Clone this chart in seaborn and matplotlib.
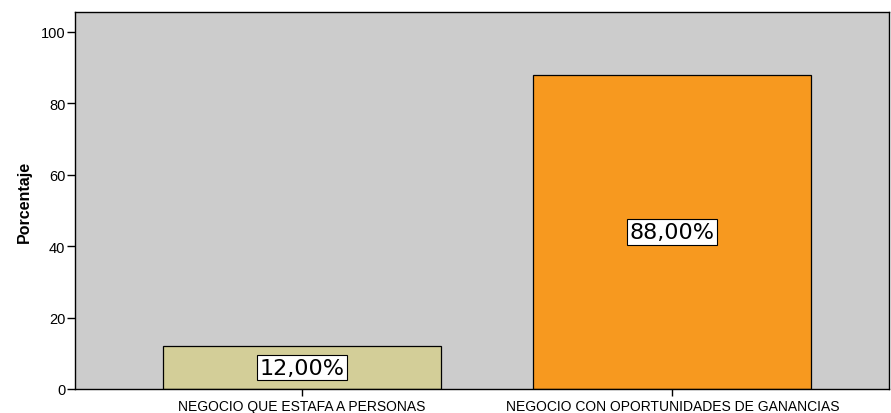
import numpy as np
import pandas as pd
import matplotlib
matplotlib.use("Agg")
import matplotlib.pyplot as plt
import seaborn as sns

sns.set_theme(style="white")
plt.rcParams['font.family'] = ['Liberation Sans', 'DejaVu Sans']
plt.rcParams['text.color'] = 'black'
plt.rcParams['xtick.color'] = 'black'
plt.rcParams['ytick.color'] = 'black'
plt.rcParams['axes.labelcolor'] = 'black'

categories = ["NEGOCIO QUE ESTAFA A PERSONAS", "NEGOCIO CON OPORTUNIDADES DE GANANCIAS"]
percentages = [12.0, 88.0]
bar_colors = ["#D3CE98", "#F7991F"]

df = pd.DataFrame({"categoria": categories, "porcentaje": percentages})

fig = plt.figure(figsize=(8.91, 4.14), dpi=100)
ax = fig.add_axes([75 / 891, 24 / 414, 814 / 891, 377 / 414])
ax.set_facecolor("#CCCCCC")

sns.barplot(data=df, x="categoria", y="porcentaje", hue="categoria",
            palette=bar_colors, saturation=1, width=0.75, edgecolor="black",
            linewidth=0.9, legend=False, ax=ax)

for i, v in enumerate(percentages):
    ax.text(i, v / 2, f"{v:.2f}%".replace(".", ","), ha="center", va="center",
            fontsize=16, color="black", family="DejaVu Sans",
            bbox=dict(boxstyle="square,pad=0.12", facecolor="white",
                      edgecolor="black", linewidth=0.8))

ax.set_xlim(-0.612, 1.585)
ax.set_ylim(0, 105.6)
ax.set_yticks([0, 20, 40, 60, 80, 100])
ax.tick_params(axis="y", direction="out", length=6, width=1, labelsize=10.5, pad=1, left=True)
ax.tick_params(axis="x", direction="out", length=5, width=1, labelsize=10, pad=2, bottom=True)
ax.set_xlabel("")
ax.set_ylabel("Porcentaje", fontsize=11.5, fontweight="bold", labelpad=6)
for s in ax.spines.values():
    s.set_color("black")
    s.set_linewidth(1)

fig.savefig("out.png", dpi=100, facecolor="white")
